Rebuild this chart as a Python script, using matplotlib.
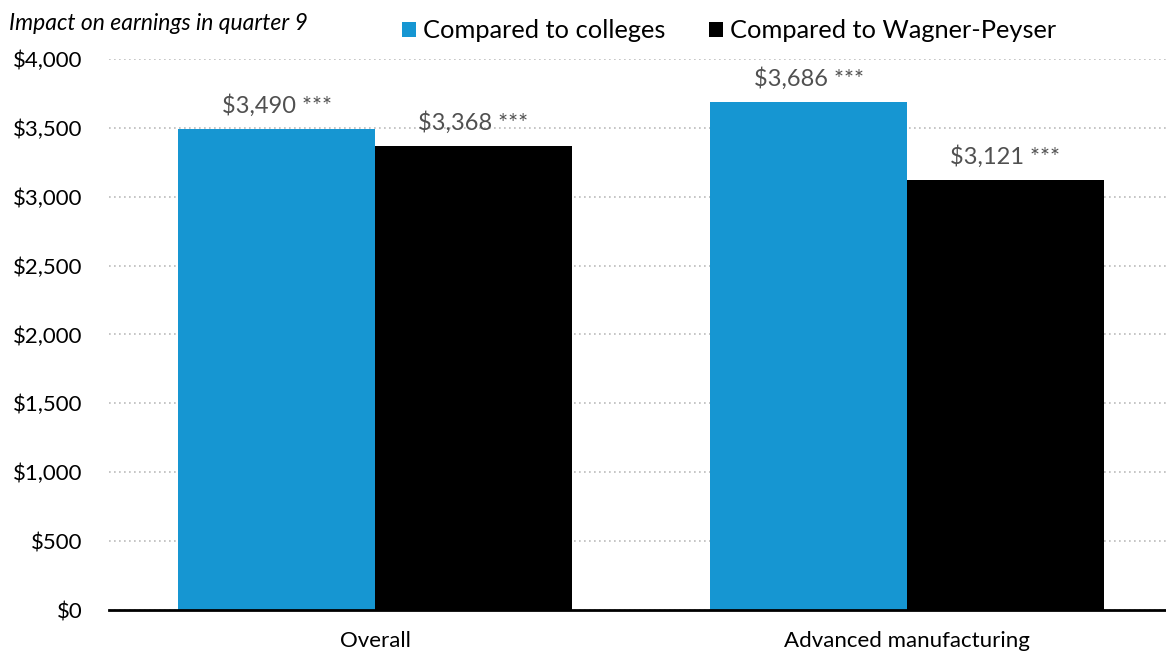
import matplotlib.pyplot as plt
import numpy as np
from matplotlib.ticker import FuncFormatter

plt.rcParams['font.family'] = ['Lato', 'DejaVu Sans']

# data
categories = ["Overall", "Advanced manufacturing"]
series_names = ["Compared to colleges", "Compared to Wagner-Peyser"]
colleges = [3490, 3686]
wagner = [3368, 3121]
colors = ["#1696D2", "#000000"]

fig = plt.figure(figsize=(11.66, 6.56), dpi=100)
ax = fig.add_axes([109 / 1166, 0.0701, 1064 / 1166, 0.840])

x = np.arange(len(categories))
w = 0.370
bars1 = ax.bar(x - w / 2, colleges, w, color=colors[0], label=series_names[0], zorder=3)
bars2 = ax.bar(x + w / 2, wagner, w, color=colors[1], label=series_names[1], zorder=3)

for bars, vals in ((bars1, colleges), (bars2, wagner)):
    for b, v in zip(bars, vals):
        ax.annotate(f"${v:,} ***", (b.get_x() + b.get_width() / 2, v),
                    xytext=(0, 9), textcoords="offset points",
                    ha="center", va="bottom", fontsize=17, color="#505050")

ax.set_xlim(-0.5, 1.5)
ax.set_ylim(0, 4000)
ax.set_yticks(np.arange(0, 4001, 500))
ax.yaxis.set_major_formatter(FuncFormatter(lambda v, p: f"${v:,.0f}"))
ax.set_xticks(x)
ax.set_xticklabels(categories)
ax.tick_params(axis="both", length=0, labelsize=16, colors="#000000")
ax.tick_params(axis="y", pad=19)
ax.tick_params(axis="x", pad=15)

ax.yaxis.grid(True, linestyle=(0, (1, 2)), color="#BBBBBB", linewidth=1.2, zorder=0)
for s in ("top", "right", "left"):
    ax.spines[s].set_visible(False)
ax.spines["bottom"].set_linewidth(2)
ax.spines["bottom"].set_zorder(4)

fig.text(0.008, 0.964, "Impact on earnings in quarter 9", fontsize=16.5,
         style="italic", ha="left", va="center")

fig.legend(handles=[bars1, bars2], labels=series_names, loc="center left",
           bbox_to_anchor=(0.345, 0.953), ncol=2, frameon=False, fontsize=18.3,
           handlelength=0.55, handleheight=0.55, handletextpad=0.25,
           columnspacing=1.75, borderaxespad=0, borderpad=0)

fig.savefig("out.png", dpi=100)
